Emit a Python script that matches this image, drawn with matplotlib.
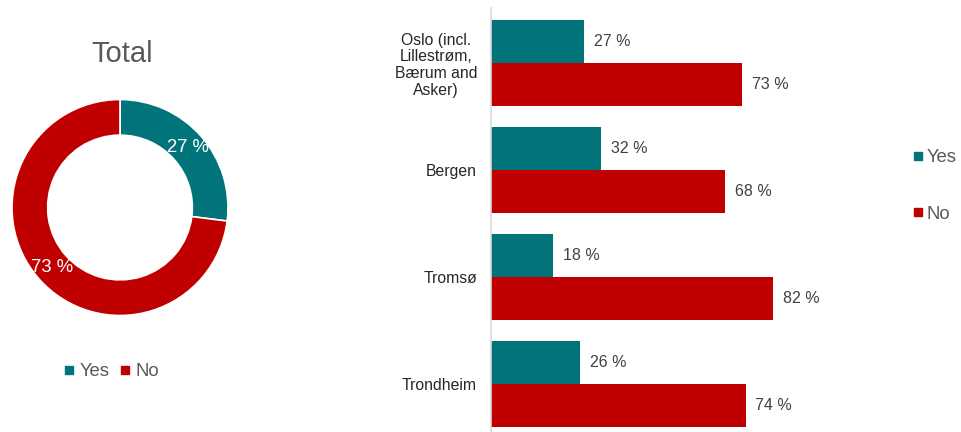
import matplotlib
matplotlib.use("Agg")
import matplotlib.pyplot as plt
from matplotlib.lines import Line2D

plt.rcParams["font.family"] = ["Liberation Sans", "DejaVu Sans"]

# Data
series = ["Yes", "No"]
total_values = [27, 73]
cities = ["Oslo (incl.\nLillestrøm,\nBærum and\nAsker)", "Bergen", "Tromsø", "Trondheim"]
yes_values = [27, 32, 18, 26]
no_values = [73, 68, 82, 74]

TEAL = "#00747A"
RED = "#C00000"
GREY_TEXT = "#595959"

W, H = 961, 432
fig = plt.figure(figsize=(W / 100, H / 100), dpi=100)


def px_axes(left, top, right, bottom):
    return fig.add_axes([left / W, 1 - bottom / H, (right - left) / W, (bottom - top) / H])


# Donut chart
ax_pie = px_axes(12, 99, 228, 316)
wedges, _, autotexts = ax_pie.pie(
    total_values,
    colors=[TEAL, RED],
    startangle=90,
    counterclock=False,
    radius=1.0,
    wedgeprops=dict(width=0.33, edgecolor="white", linewidth=1.2),
    autopct=lambda p: f"{p:.0f} %",
    pctdistance=0.835,
    textprops=dict(color="white", fontsize=13.3),
)
ax_pie.set_xlim(-1, 1)
ax_pie.set_ylim(-1, 1)
ax_pie.set_aspect("equal")

fig.text(122 / W, 1 - 54 / H, "Total", ha="center", va="center",
         fontsize=21, color=GREY_TEXT)

handles = [Line2D([], [], marker="s", linestyle="none", markersize=6,
                  markerfacecolor=c, markeredgecolor=c) for c in (TEAL, RED)]
fig.legend(handles, series, loc="center", bbox_to_anchor=(111 / W, 1 - 372 / H),
           ncol=2, frameon=False, fontsize=13.3, handlelength=0.7,
           handletextpad=0.2, columnspacing=0.5, labelcolor=GREY_TEXT)

# Grouped horizontal bar chart
ax = px_axes(491, 8, 835, 432)
bar_h = 0.4
pos = list(range(len(cities)))
b_yes = ax.barh([p - bar_h / 2 for p in pos], yes_values, height=bar_h, color=TEAL)
b_no = ax.barh([p + bar_h / 2 for p in pos], no_values, height=bar_h, color=RED)
ax.bar_label(b_yes, labels=[f"{v} %" for v in yes_values], padding=7,
             fontsize=11.5, color="#404040")
ax.bar_label(b_no, labels=[f"{v} %" for v in no_values], padding=7,
             fontsize=11.5, color="#404040")

ax.set_xlim(0, 100)
ax.set_ylim(3.449, -0.514)
ax.set_yticks(pos)
ax.set_yticklabels(cities, fontsize=11.3, color="#262626", multialignment="center",
                   linespacing=1.15)
ax.tick_params(axis="y", length=0, pad=10)
ax.set_xticks([])
for s in ("top", "right", "bottom"):
    ax.spines[s].set_visible(False)
ax.spines["left"].set_color("#D9D9D9")
ax.spines["left"].set_linewidth(1.2)

fig.legend(handles, series, loc="center", bbox_to_anchor=(934 / W, 1 - 186 / H),
           ncol=1, frameon=False, fontsize=13.3, handlelength=0.7,
           handletextpad=0.15, labelspacing=2.15, labelcolor=GREY_TEXT)

fig.savefig("out.png", dpi=100, facecolor="white")
